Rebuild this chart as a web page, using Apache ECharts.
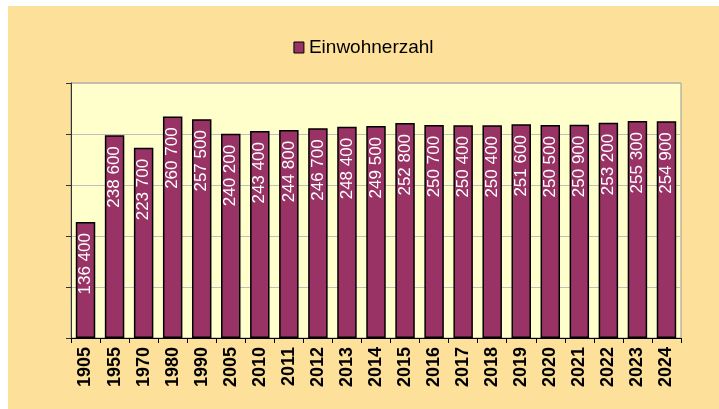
<!DOCTYPE html>
<html>
<head>
<meta charset="utf-8">
<script src="https://cdn.jsdelivr.net/npm/echarts@6/dist/echarts.min.js"></script>
<style>
  html, body { margin: 0; padding: 0; background: #ffffff; }
  #chart { position: absolute; left: 8px; top: 6px; width: 711px; height: 403px; background: #FDE09A; }
</style>
</head>
<body>
<div id="chart"></div>
<script>
var years = ['1905', '1955', '1970', '1980', '1990', '2005', '2010', '2011', '2012', '2013', '2014',
	'2015', '2016', '2017', '2018', '2019', '2020', '2021', '2022', '2023', '2024'];
var einwohner = [136400, 238600, 223700, 260700, 257500, 240200, 243400, 244800, 246700, 248400, 249500,
	252800, 250700, 250400, 250400, 251600, 250500, 250900, 253200, 255300, 254900];

function fmt(v) {
	return String(v).replace(/\B(?=(\d{3})+(?!\d))/g, ' ');
}

var myChart = echarts.init(document.getElementById('chart'));
var option = {
	animation: false,
	legend: {
		top: 27,
		left: 'center',
		itemWidth: 10,
		itemHeight: 11,
		itemGap: 4,
		icon: 'rect',
		textStyle: { fontFamily: 'Liberation Sans', fontSize: 19, color: '#000' },
		data: [{ name: 'Einwohnerzahl', itemStyle: { borderColor: '#000', borderWidth: 1 } }]
	},
	grid: {
		left: 63, right: 38, top: 77, bottom: 71,
		show: true,
		backgroundColor: '#FFFFCC',
		borderColor: '#999999',
		borderWidth: 1
	},
	xAxis: {
		type: 'category',
		data: years,
		axisLine: { lineStyle: { color: '#000', width: 1 } },
		axisTick: { show: true, length: 5, lineStyle: { color: '#000' } },
		axisLabel: {
			rotate: 90,
			margin: 9,
			fontFamily: 'Liberation Sans',
			fontWeight: 'bold',
			fontSize: 18,
			color: '#000'
		}
	},
	yAxis: {
		type: 'value',
		min: 0,
		max: 300000,
		interval: 60000,
		axisLine: { show: true, lineStyle: { color: '#333', width: 1 } },
		axisTick: { show: true, length: 5, lineStyle: { color: '#333' } },
		axisLabel: { show: false },
		splitLine: { lineStyle: { color: '#BFBFBF', width: 1 } }
	},
	series: [{
		name: 'Einwohnerzahl',
		type: 'bar',
		data: einwohner,
		barWidth: '67%',
		itemStyle: { color: '#993366', borderColor: '#000', borderWidth: 1.5 },
		label: {
			show: true,
			position: 'insideTop',
			rotate: 90,
			align: 'right',
			verticalAlign: 'middle',
			distance: 11,
			fontFamily: 'Liberation Sans',
			fontSize: 17,
			color: '#fff',
			formatter: function (p) { return fmt(p.value); }
		}
	}]
};
myChart.setOption(option);
</script>
</body>
</html>
